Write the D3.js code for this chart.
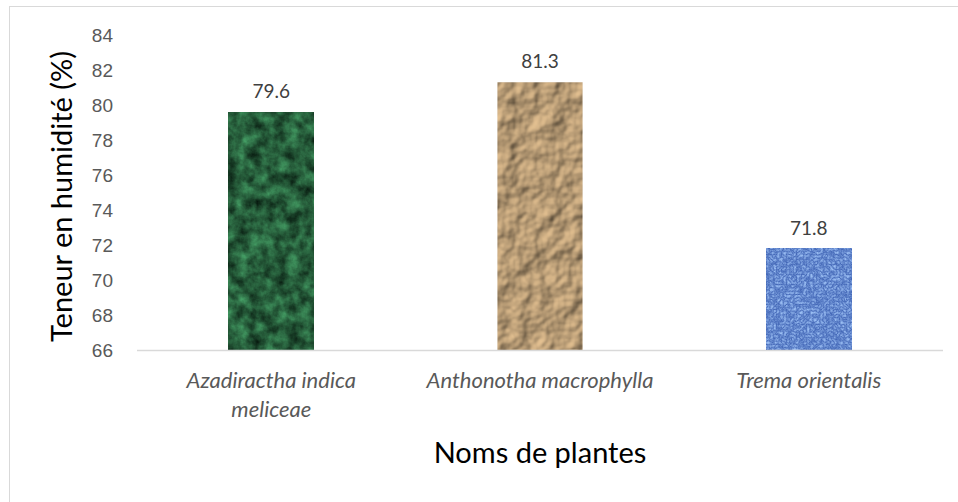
<!DOCTYPE html>
<html>
<head>
<meta charset="utf-8">
<script src="https://cdn.jsdelivr.net/npm/d3@7"></script>
<style>
  body { margin: 0; background: #fff; }
  svg { display: block; font-family: Lato, "Open Sans", sans-serif; }
</style>
</head>
<body>
<div id="chart"></div>
<script>
const plants = [['Azadiractha indica', 'meliceae'], ['Anthonotha macrophylla'], ['Trema orientalis']];
const moisture = [79.6, 81.3, 71.8];
const yTicks = [66, 68, 70, 72, 74, 76, 78, 80, 82, 84];

const W = 958, H = 502;
const margin = { top: 35, right: 15, bottom: 152, left: 137 };

const svg = d3.select('#chart').append('svg')
    .attr('width', W)
    .attr('height', H);

const defs = svg.append('defs');

function makeFilter(id) {
    return defs.append('filter').attr('id', id)
        .attr('x', 0).attr('y', 0).attr('width', 1).attr('height', 1)
        .attr('color-interpolation-filters', 'sRGB');
}

// green marble
const fGreen = makeFilter('tex0');
fGreen.append('feTurbulence').attr('type', 'fractalNoise').attr('baseFrequency', 0.08).attr('numOctaves', 4).attr('seed', 3).attr('result', 'n');
fGreen.append('feColorMatrix').attr('in', 'n').attr('type', 'matrix')
    .attr('values', '0.3 0 0 0 0.0  0.65 0 0 0 0.04  0.42 0 0 0 0.02  0 0 0 0 1');

// tan crumpled paper
const fTan = makeFilter('tex1');
fTan.append('feTurbulence').attr('type', 'fractalNoise').attr('baseFrequency', 0.045).attr('numOctaves', 3).attr('seed', 7).attr('result', 'n');
fTan.append('feDiffuseLighting').attr('in', 'n').attr('surfaceScale', 3.5).attr('diffuseConstant', 1.05).attr('lighting-color', '#dcba8c').attr('result', 'l')
    .append('feDistantLight').attr('azimuth', 225).attr('elevation', 52);
fTan.append('feComposite').attr('in', 'l').attr('in2', 'SourceGraphic').attr('operator', 'in');

// blue burlap
const fBlue = makeFilter('tex2');
fBlue.append('feTurbulence').attr('type', 'turbulence').attr('baseFrequency', '0.3 0.3').attr('numOctaves', 2).attr('seed', 5).attr('result', 'n');
fBlue.append('feColorMatrix').attr('in', 'n').attr('type', 'matrix')
    .attr('values', '0 0 0 0 0.27  0 0 0 0 0.41  0 0 0 0 0.72  0 0 0 0 1').attr('result', 'base');
fBlue.append('feColorMatrix').attr('in', 'n').attr('type', 'matrix')
    .attr('values', '0 0 0 0 0.6  0 0 0 0 0.74  0 0 0 0 0.95  1.5 0 0 0 0').attr('result', 'hi');
fBlue.append('feMerge').selectAll('feMergeNode').data(['base', 'hi']).enter()
    .append('feMergeNode').attr('in', d => d);

const baseColors = ['#1e5a35', '#c9a878', '#6b8cc8'];

// outer frame
svg.append('rect')
    .attr('x', 9.5).attr('y', 6.5)
    .attr('width', W + 20).attr('height', H + 20)
    .attr('fill', '#fff').attr('stroke', '#d9d9d9').attr('stroke-width', 1);

const g = svg.append('g').attr('transform', `translate(${margin.left},${margin.top})`);
const width = W - margin.left - margin.right;
const height = H - margin.top - margin.bottom;

const x = d3.scaleBand()
    .domain(plants.map((d, i) => i))
    .range([0, width])
    .paddingInner(0.683)
    .paddingOuter(0.3415);

const y = d3.scaleLinear()
    .domain([66, 84])
    .range([height, 0]);

// y axis labels
const yAxis = g.append('g')
    .call(d3.axisLeft(y).tickValues(yTicks).tickSize(0).tickPadding(24));
yAxis.select('.domain').remove();
yAxis.selectAll('text')
    .attr('fill', '#595959')
    .style('font-size', '19px');

// bars
g.selectAll('.bar')
    .data(moisture)
    .enter()
    .append('rect')
    .attr('class', 'bar')
    .attr('x', (d, i) => x(i))
    .attr('y', d => y(d))
    .attr('width', x.bandwidth())
    .attr('height', d => height - y(d))
    .attr('fill', (d, i) => baseColors[i])
    .attr('filter', (d, i) => `url(#tex${i})`);

// baseline
g.append('line')
    .attr('x1', 0).attr('x2', width)
    .attr('y1', height + 0.5).attr('y2', height + 0.5)
    .attr('stroke', '#d9d9d9').attr('stroke-width', 1.5);

// value labels
g.selectAll('.val')
    .data(moisture)
    .enter()
    .append('text')
    .attr('class', 'val')
    .attr('x', (d, i) => x(i) + x.bandwidth() / 2)
    .attr('y', d => y(d) - 14)
    .attr('text-anchor', 'middle')
    .attr('fill', '#404040')
    .style('font-size', '19px')
    .text(d => d.toFixed(1));

// category labels
const cat = g.selectAll('.cat')
    .data(plants)
    .enter()
    .append('text')
    .attr('class', 'cat')
    .attr('x', (d, i) => x(i) + x.bandwidth() / 2)
    .attr('y', height + 38)
    .attr('text-anchor', 'middle')
    .attr('fill', '#595959')
    .style('font-size', '22px')
    .style('font-style', 'italic');
cat.selectAll('tspan')
    .data(d => d)
    .enter()
    .append('tspan')
    .attr('x', function() { return this.parentNode.getAttribute('x'); })
    .attr('dy', (d, i) => i === 0 ? 0 : 29)
    .text(d => d);

// axis titles
svg.append('text')
    .attr('x', 540)
    .attr('y', 463)
    .attr('text-anchor', 'middle')
    .attr('fill', '#000')
    .style('font-size', '29px')
    .text('Noms de plantes');

svg.append('text')
    .attr('transform', `translate(72, ${margin.top + height / 2 + 4}) rotate(-90)`)
    .attr('text-anchor', 'middle')
    .attr('fill', '#000')
    .style('font-size', '29px')
    .text('Teneur en humidité (%)');
</script>
</body>
</html>
